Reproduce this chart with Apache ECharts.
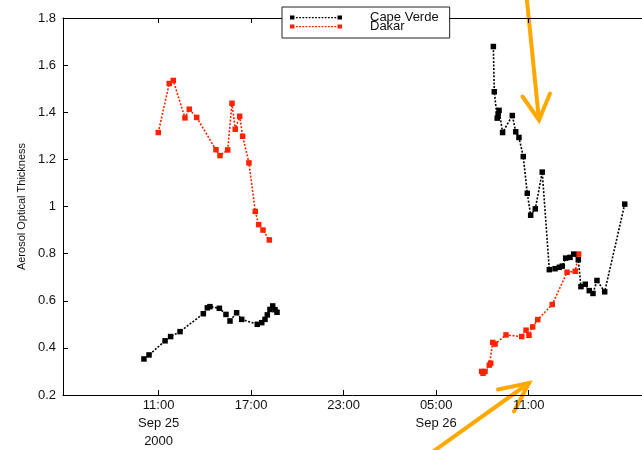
<!DOCTYPE html>
<html>
<head>
<meta charset="utf-8">
<script src="https://cdn.jsdelivr.net/npm/echarts@6/dist/echarts.min.js"></script>
<style>
  html, body { margin: 0; padding: 0; background: #fff; }
  #chart { width: 642px; height: 450px; }
</style>
</head>
<body>
<div id="chart"></div>
<script>
// Hours counted from 2000-09-25 00:00 UTC; a null value breaks the line between days.
const capeVerdeHours = [
  10.05, 10.38, 11.42, 11.78, 12.39, 13.90, 14.16, 14.33, 14.94, 15.37,
  15.63, 16.06, 16.39, 17.40, 17.69, 17.90, 18.05, 18.22, 18.40, 18.55, 18.68,
  25.00,
  32.71, 32.77, 32.96, 33.02, 33.08, 33.31, 33.94, 34.16, 34.37, 34.65,
  34.91, 35.13, 35.43, 35.88, 36.34, 36.71, 36.99, 37.18, 37.40, 37.68,
  37.92, 38.22, 38.39, 38.67, 38.93, 39.17, 39.43, 39.93, 41.23
];
const capeVerdeAOT = [
  0.353, 0.370, 0.430, 0.448, 0.469, 0.545, 0.570, 0.575, 0.568, 0.542,
  0.514, 0.549, 0.521, 0.500, 0.507, 0.521, 0.540, 0.563, 0.578, 0.562, 0.551,
  null,
  1.679, 1.487, 1.375, 1.392, 1.408, 1.314, 1.386, 1.317, 1.293, 1.212,
  1.056, 0.963, 0.990, 1.146, 0.732, 0.736, 0.742, 0.747, 0.781, 0.784,
  0.798, 0.774, 0.660, 0.670, 0.643, 0.631, 0.686, 0.638, 1.010
];

const dakarHours = [
  10.98, 11.69, 11.95, 12.71, 12.99, 13.47, 14.72, 14.98, 15.48, 15.76,
  15.97, 16.26, 16.45, 16.86, 17.27, 17.49, 17.77, 18.18,
  25.00,
  31.95, 32.04, 32.17, 32.45, 32.54, 32.67, 32.82, 33.53, 34.55, 34.83,
  35.02, 35.26, 35.59, 36.53, 37.49, 38.02, 38.24
];
const dakarAOT = [
  1.314, 1.522, 1.535, 1.376, 1.413, 1.378, 1.241, 1.216, 1.240, 1.438,
  1.328, 1.383, 1.298, 1.185, 0.979, 0.923, 0.900, 0.858,
  null,
  0.300, 0.292, 0.300, 0.327, 0.335, 0.423, 0.416, 0.455, 0.448, 0.475,
  0.453, 0.489, 0.520, 0.584, 0.721, 0.725, 0.798
];

// Tick positions (hours) and their labels
const tickHours = [11, 17, 23, 29, 35];
const tickLabels = ['11:00\nSep 25\n2000', '17:00', '23:00', '05:00\nSep 26', '11:00'];

const seriesNames = ['Cape Verde', 'Dakar'];
const seriesColors = ['#000000', '#ff2200'];

const FONT = '"Liberation Sans", Arial, Helvetica, sans-serif';

function pairs(xs, ys) {
  return xs.map((x, i) => [x, ys[i]]);
}

// Legend swatch: square marker, dotted run, square marker
function legendIconPath() {
  let p = 'path://M0,0.5h4.5v4h-4.5z';
  for (let x = 6; x < 46; x += 3.2) {
    p += 'M' + x + ',1.9h1.8v1.4h-1.8z';
  }
  p += 'M47.5,0.5h4.5v4h-4.5z';
  p += 'M0,0h0.01v5h-0.01zM52,0h0.01v5h-0.01z';
  return p;
}

const chart = echarts.init(document.getElementById('chart'), null, { renderer: 'canvas' });

const axisLineStyle = { color: '#000', width: 1 };
const X_MIN = 4.8;
const X_MAX = 42.35;

const option = {
  animation: false,
  backgroundColor: '#ffffff',
  textStyle: { fontFamily: FONT },
  grid: { left: 63, top: 18, right: 0, height: 380, containLabel: false },
  legend: {
    orient: 'vertical',
    left: 282,
    top: 7,
    padding: [4, 11, 5, 8],
    itemGap: -4,
    itemWidth: 52,
    itemHeight: 5,
    icon: legendIconPath(),
    backgroundColor: '#ffffff',
    borderColor: '#222',
    borderWidth: 1,
    borderRadius: 0,
    z: 10,
    data: seriesNames,
    textStyle: {
      fontFamily: FONT,
      fontSize: 13,
      color: '#111',
      lineHeight: 10,
      padding: [3, 0, 0, 23]
    }
  },
  xAxis: [
    {
      type: 'value',
      position: 'bottom',
      min: X_MIN,
      max: X_MAX,
      splitLine: { show: false },
      axisLine: { show: true, onZero: false, lineStyle: axisLineStyle },
      axisTick: { show: true, inside: true, length: 5, customValues: tickHours, lineStyle: axisLineStyle },
      axisLabel: {
        customValues: tickHours,
        margin: 1,
        fontFamily: FONT,
        fontSize: 13,
        lineHeight: 18,
        color: '#111',
        formatter: (v) => tickLabels[tickHours.indexOf(Math.round(v))] || ''
      }
    },
    {
      type: 'value',
      position: 'top',
      min: X_MIN,
      max: X_MAX,
      splitLine: { show: false },
      axisLine: { show: true, onZero: false, lineStyle: axisLineStyle },
      axisTick: { show: true, inside: true, length: 5, customValues: tickHours, lineStyle: axisLineStyle },
      axisLabel: { show: false }
    }
  ],
  yAxis: {
    type: 'value',
    min: 0.2,
    max: 1.8,
    interval: 0.2,
    name: 'Aerosol Optical Thickness',
    nameLocation: 'middle',
    nameGap: 36,
    nameRotate: 90,
    nameTextStyle: { fontFamily: FONT, fontSize: 11, color: '#111' },
    splitLine: { show: false },
    axisLine: { show: true, onZero: false, lineStyle: axisLineStyle },
    axisTick: { show: true, inside: true, length: 5, lineStyle: axisLineStyle },
    axisLabel: { margin: 7, fontFamily: FONT, fontSize: 13, color: '#111' }
  },
  series: [
    {
      name: seriesNames[0],
      type: 'line',
      data: pairs(capeVerdeHours, capeVerdeAOT),
      connectNulls: false,
      color: seriesColors[0],
      symbol: 'rect',
      symbolSize: 5.5,
      showAllSymbol: true,
      itemStyle: { color: seriesColors[0] },
      lineStyle: { color: seriesColors[0], width: 1.6, type: [2, 1.6] },
      z: 3
    },
    {
      name: seriesNames[1],
      type: 'line',
      data: pairs(dakarHours, dakarAOT),
      connectNulls: false,
      color: seriesColors[1],
      symbol: 'rect',
      symbolSize: 5.5,
      showAllSymbol: true,
      itemStyle: { color: seriesColors[1] },
      lineStyle: { color: seriesColors[1], width: 1.6, type: [2, 1.6] },
      z: 2
    }
  ],
  // Orange callout arrows drawn over the plot
  graphic: [
    {
      type: 'group',
      z: 100,
      children: [
        { type: 'line', shape: { x1: 526.5, y1: -4, x2: 539, y2: 120 },
          style: { stroke: '#ffa800', lineWidth: 4, lineCap: 'round' } },
        { type: 'polyline', shape: { points: [[522.5, 96.5], [539, 120], [550, 93.5]] },
          style: { stroke: '#ffa800', lineWidth: 4, lineCap: 'round', lineJoin: 'miter', fill: null } },
        { type: 'line', shape: { x1: 431, y1: 453, x2: 529, y2: 383 },
          style: { stroke: '#ffa800', lineWidth: 4, lineCap: 'round' } },
        { type: 'polyline', shape: { points: [[498, 389.5], [529, 383], [514, 411.5]] },
          style: { stroke: '#ffa800', lineWidth: 4, lineCap: 'round', lineJoin: 'miter', fill: null } }
      ]
    }
  ]
};

chart.setOption(option);
</script>
</body>
</html>
